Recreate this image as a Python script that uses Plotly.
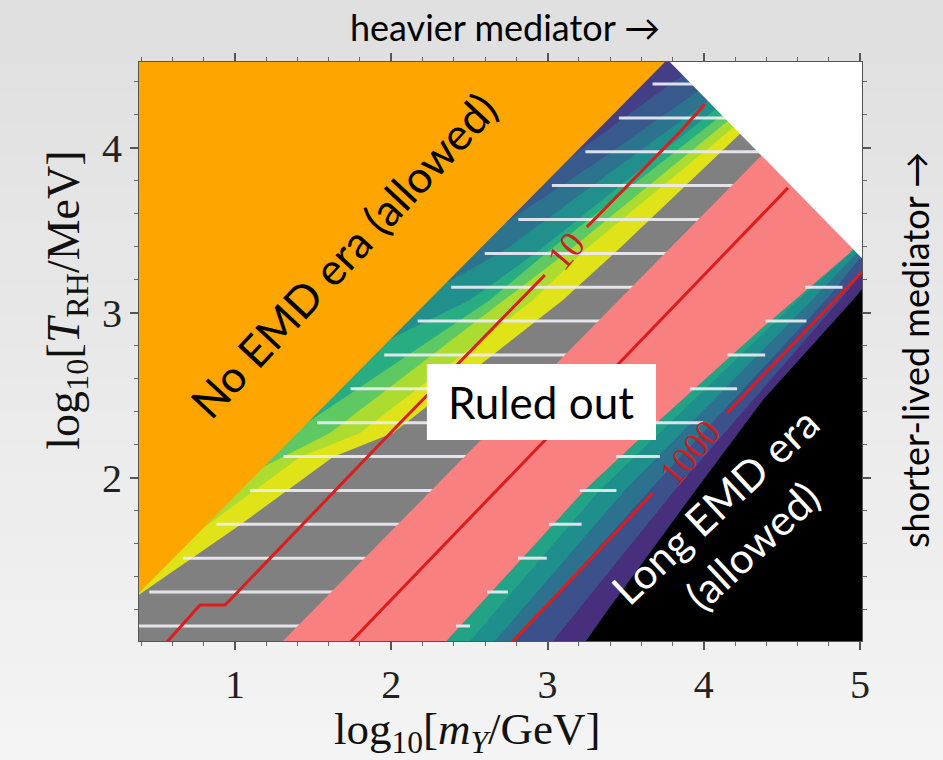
import numpy as np
import plotly.graph_objects as go

# ---------------- axes ----------------
X_RANGE = [0.386, 5.012]
Y_RANGE = [1.012, 4.521]
X_TICKS = [1, 2, 3, 4, 5]
Y_TICKS = [2, 3, 4]

# ------------- region boundaries (log10 m_Y/GeV , log10 T_RH/MeV) -------------
# edge of the "no early matter domination" region
ORANGE_X = [-0.5, 4.0]
ORANGE_Y = [0.456, 4.759]

# edge of the unphysical corner (top right)
WHITE_X = [3.6, 5.3]
WHITE_Y = [4.698, 3.053]

# filled-contour levels above the ruled-out band (dark -> light)
B1_X = [3.12, 3.866, 4.385]
B1_Y = [3.927, 4.442, 4.80]
B2_X = [2.71, 3.335, 3.962, 4.645]
B2_Y = [3.533, 3.927, 4.345, 4.80]
B3_X = [2.33, 2.727, 4.026, 4.767]
B3_Y = [3.170, 3.382, 4.285, 4.80]
B4_X = [1.98, 2.504, 2.951, 4.077, 4.821]
B4_Y = [2.836, 3.079, 3.382, 4.236, 4.80]
B5_X = [1.44, 2.632, 3.015, 4.116, 4.924]
B5_Y = [2.321, 3.079, 3.382, 4.200, 4.80]
B6_X = [1.18, 1.608, 2.727, 3.143, 4.154, 4.976]
B6_Y = [2.067, 2.273, 3.079, 3.382, 4.164, 4.80]
B7_X = [0.78, 1.416, 1.800, 2.907, 3.239, 4.193, 5.055]
B7_Y = [1.685, 2.127, 2.273, 3.079, 3.382, 4.127, 4.80]
GRAY_X = [0.33, 1.032, 1.333, 1.627, 2.011, 3.099, 3.450, 4.231, 5.025]
GRAY_Y = [1.255, 1.715, 1.921, 2.127, 2.273, 3.079, 3.382, 4.085, 4.80]
UPPER_COLORS = ["#433e85", "#38598c", "#2c738e", "#21908d", "#27ad81",
                "#5ec962", "#addc30", "#dfe318"]

# ruled-out band
PINK_LEFT_X = [0.98, 1.307, 4.340, 5.25]
PINK_LEFT_Y = [0.70, 1.012, 3.927, 4.80]
PINK_RIGHT_X = [2.05, 2.356, 3.239, 3.719, 4.359, 4.935, 5.30]
PINK_RIGHT_Y = [0.70, 1.012, 1.927, 2.352, 2.897, 3.364, 3.80]

# filled-contour levels below the ruled-out band (light -> dark)
L1_X = [2.22, 2.504, 3.335, 4.602, 4.948, 5.30]
L1_Y = [0.70, 1.012, 1.927, 3.079, 3.370, 3.80]
L2_X = [2.38, 2.663, 3.495, 4.692, 4.973, 5.30]
L2_Y = [0.70, 1.012, 1.927, 3.079, 3.358, 3.75]
L3_X = [2.50, 2.791, 3.655, 4.781, 4.999, 5.30]
L3_Y = [0.70, 1.012, 1.927, 3.079, 3.333, 3.65]
L4_X = [2.77, 3.035, 3.815, 4.871, 5.037, 5.30]
L4_Y = [0.70, 1.012, 1.927, 3.079, 3.273, 3.55]
LOWER_COLORS = ["#22a386", "#1f8f8d", "#2c728e", "#3c508b", "#472f7d"]

# long early-matter-domination region
BLACK_X = [3.013, 3.246, 3.386, 3.949, 4.378, 4.954, 5.063, 5.30]
BLACK_Y = [0.70, 1.012, 1.200, 1.927, 2.473, 3.079, 3.200, 3.45]

# hatched exclusion (horizontal hatching)
HATCH_Y = [1.103, 1.309, 1.514, 1.719, 1.924, 2.130, 2.335, 2.540, 2.746,
           2.951, 3.156, 3.361, 3.567, 3.772, 3.977, 4.182, 4.388]
HATCH_LOWER_END_X = [2.504, 2.996, 3.444, 3.994, 4.218, 4.391, 4.666, 4.890, 4.92]
HATCH_LOWER_END_Y = [1.109, 1.515, 1.927, 2.333, 2.545, 2.745, 2.958, 3.158, 3.30]

# contour lines (None = gap for the inline label)
C10_X = [0.520, 0.571, 0.776, 0.936, 0.987, 2.056, 2.983, None, 3.252, 3.847, 4.007]
C10_Y = [0.958, 1.012, 1.230, 1.230, 1.279, 2.333, 3.230, None, 3.521, 4.097, 4.267]
C100_X = [1.691, 4.538]
C100_Y = [0.958, 3.758]
C1000_X = [2.724, 2.779, 3.674, None, 4.148, 5.012, 5.10]
C1000_Y = [0.958, 1.012, 1.909, None, 2.394, 3.248, 3.335]
CONTOUR_LABELS = ["10", "1000"]
CONTOUR_LABEL_X = [3.118, 3.911]
CONTOUR_LABEL_Y = [3.376, 2.152]

SERIF = "Liberation Serif"
SANS = "Lato"
RED = "#dd1c1c"

fig = go.Figure()


def poly(xs, ys, color):
    fig.add_trace(go.Scatter(x=xs, y=ys, mode="lines", fill="toself",
                             fillcolor=color, line=dict(width=0, color=color),
                             hoverinfo="skip", showlegend=False))


def right_of(bx, by, color, upper=True):
    """Fill everything to the lower right of a boundary polyline."""
    if upper:
        xs = [ORANGE_X[0]] + list(bx) + [6.0, 6.0, ORANGE_X[0]]
        ys = [ORANGE_Y[0]] + list(by) + [by[-1], 0.3, 0.3]
    else:
        xs = list(bx) + [6.0, 6.0, bx[0]]
        ys = list(by) + [by[-1], 0.3, 0.3]
    poly(xs, ys, color)


# base colour of the strip
poly([0, 6, 6, 0], [0, 0, 6, 6], UPPER_COLORS[0])

upper_bounds = [(B1_X, B1_Y), (B2_X, B2_Y), (B3_X, B3_Y), (B4_X, B4_Y),
                (B5_X, B5_Y), (B6_X, B6_Y), (B7_X, B7_Y)]
for (bx, by), col in zip(upper_bounds, UPPER_COLORS[1:]):
    right_of(bx, by, col)
right_of(GRAY_X, GRAY_Y, "#808080")

# hatching between the no-EMD edge and the ruled-out band
hx, hy = [], []
for y in HATCH_Y:
    xl = np.interp(y, ORANGE_Y, ORANGE_X) + 0.06
    xr = np.interp(y, PINK_LEFT_Y, PINK_LEFT_X) + 0.05
    hx += [xl, xr, None]
    hy += [y, y, None]
fig.add_trace(go.Scatter(x=hx, y=hy, mode="lines",
                         line=dict(color="rgba(236,236,242,0.92)", width=3),
                         hoverinfo="skip", showlegend=False))

# ruled-out band
poly(PINK_LEFT_X + PINK_RIGHT_X[::-1], PINK_LEFT_Y + PINK_RIGHT_Y[::-1], "#f98080")

# contour levels below the band
right_of(PINK_RIGHT_X, PINK_RIGHT_Y, LOWER_COLORS[0], upper=False)
for (bx, by), col in zip([(L1_X, L1_Y), (L2_X, L2_Y), (L3_X, L3_Y), (L4_X, L4_Y)],
                         LOWER_COLORS[1:]):
    right_of(bx, by, col, upper=False)

# hatching on the lower side of the band
lx, ly = [], []
for y in HATCH_Y:
    xl = np.interp(y, PINK_RIGHT_Y, PINK_RIGHT_X)
    xr = np.interp(y, HATCH_LOWER_END_Y, HATCH_LOWER_END_X)
    if xr > xl:
        lx += [xl - 0.03, xr, None]
        ly += [y, y, None]
fig.add_trace(go.Scatter(x=lx, y=ly, mode="lines",
                         line=dict(color="rgba(236,236,242,0.92)", width=3),
                         hoverinfo="skip", showlegend=False))

# long EMD era
right_of(BLACK_X, BLACK_Y, "#000000", upper=False)

# no EMD era
poly(ORANGE_X + [ORANGE_X[0]], ORANGE_Y + [ORANGE_Y[1]], "#ffa500")

# unphysical corner
poly(WHITE_X + [WHITE_X[1], WHITE_X[0]], WHITE_Y + [4.8, 4.8], "#ffffff")

# contour lines
for cx, cy in [(C10_X, C10_Y), (C100_X, C100_Y), (C1000_X, C1000_Y)]:
    fig.add_trace(go.Scatter(x=cx, y=cy, mode="lines", connectgaps=False,
                             line=dict(color=RED, width=3),
                             hoverinfo="skip", showlegend=False))

for txt, x, y in zip(CONTOUR_LABELS, CONTOUR_LABEL_X, CONTOUR_LABEL_Y):
    fig.add_annotation(x=x, y=y, text=txt, showarrow=False, textangle=-50,
                       xanchor="center", yanchor="middle",
                       font=dict(family=SERIF, size=36, color="#cc2020"))

# "Ruled out" box
fig.add_shape(type="rect", x0=2.228, x1=3.694, y0=2.230, y1=2.691,
              fillcolor="white", line=dict(width=0), layer="above")
fig.add_annotation(x=2.958, y=2.461, text="Ruled out", showarrow=False,
                   xanchor="center", yanchor="middle",
                   font=dict(family=SANS, size=44, color="black"))

fig.add_annotation(x=1.691, y=3.352, text="No EMD era (allowed)", showarrow=False,
                   xanchor="center", yanchor="middle",
                   textangle=-47, font=dict(family=SANS, size=44, color="black"))
fig.add_annotation(x=4.193, y=1.709, text="Long EMD era<br>(allowed)", showarrow=False,
                   xanchor="center", yanchor="middle",
                   textangle=-43, font=dict(family=SANS, size=42, color="white"))

fig.add_annotation(xref="paper", yref="paper", x=0.506, y=1.0604,
                   xanchor="center", yanchor="middle",
                   text="heavier mediator →", showarrow=False,
                   font=dict(family=SANS, size=36, color="black"))
fig.add_annotation(xref="paper", yref="paper", x=1.0733, y=0.5026,
                   xanchor="center", yanchor="middle",
                   text="shorter-lived mediator →", showarrow=False, textangle=-90,
                   font=dict(family=SANS, size=36, color="black"))

# axis titles
fig.add_annotation(xref="paper", yref="paper", x=0.455, y=-0.158,
                   xanchor="center", yanchor="middle",
                   text="log<sub>10</sub>[<i>m<sub>Y</sub></i>/GeV]", showarrow=False,
                   font=dict(family=SERIF, size=45, color="#111"))
fig.add_annotation(xref="paper", yref="paper", x=-0.100, y=0.589,
                   xanchor="center", yanchor="middle",
                   text="log<sub>10</sub>[<i>T</i><sub>RH</sub>/MeV]", showarrow=False,
                   textangle=-90, font=dict(family=SERIF, size=46, color="#111"))

# page background (soft vertical gradient)
n = 24
for i in range(n):
    g = int(224 + (244 - 224) * i / (n - 1))
    y1 = 1.107 - i * (1.107 + 0.2055) / n
    y0 = 1.107 - (i + 1) * (1.107 + 0.2055) / n
    fig.add_shape(type="rect", xref="paper", yref="paper",
                  x0=-0.1923, x1=1.112, y0=y0 - 0.002, y1=y1 + 0.002,
                  fillcolor=f"rgb({g},{g},{g})", line=dict(width=0), layer="below")

axis_common = dict(showgrid=False, zeroline=False, showline=True, linecolor="#555",
                   linewidth=1, ticks="outside", ticklen=8, tickwidth=1.5,
                   tickcolor="#555", mirror="allticks",
                   tickfont=dict(family=SERIF, size=40, color="#222"),
                   minor=dict(ticks="outside", ticklen=4, tickwidth=1.2,
                              tickcolor="#666", dtick=0.2, tick0=0))

fig.update_xaxes(range=X_RANGE, tickvals=X_TICKS, **axis_common)
fig.update_yaxes(range=Y_RANGE, tickvals=Y_TICKS, **axis_common)

fig.update_layout(width=943, height=760, showlegend=False, hovermode=False,
                  margin=dict(l=139, r=81, t=62, b=119),
                  paper_bgcolor="#ebebeb", plot_bgcolor="#433e85")

fig.write_html("out.html")
